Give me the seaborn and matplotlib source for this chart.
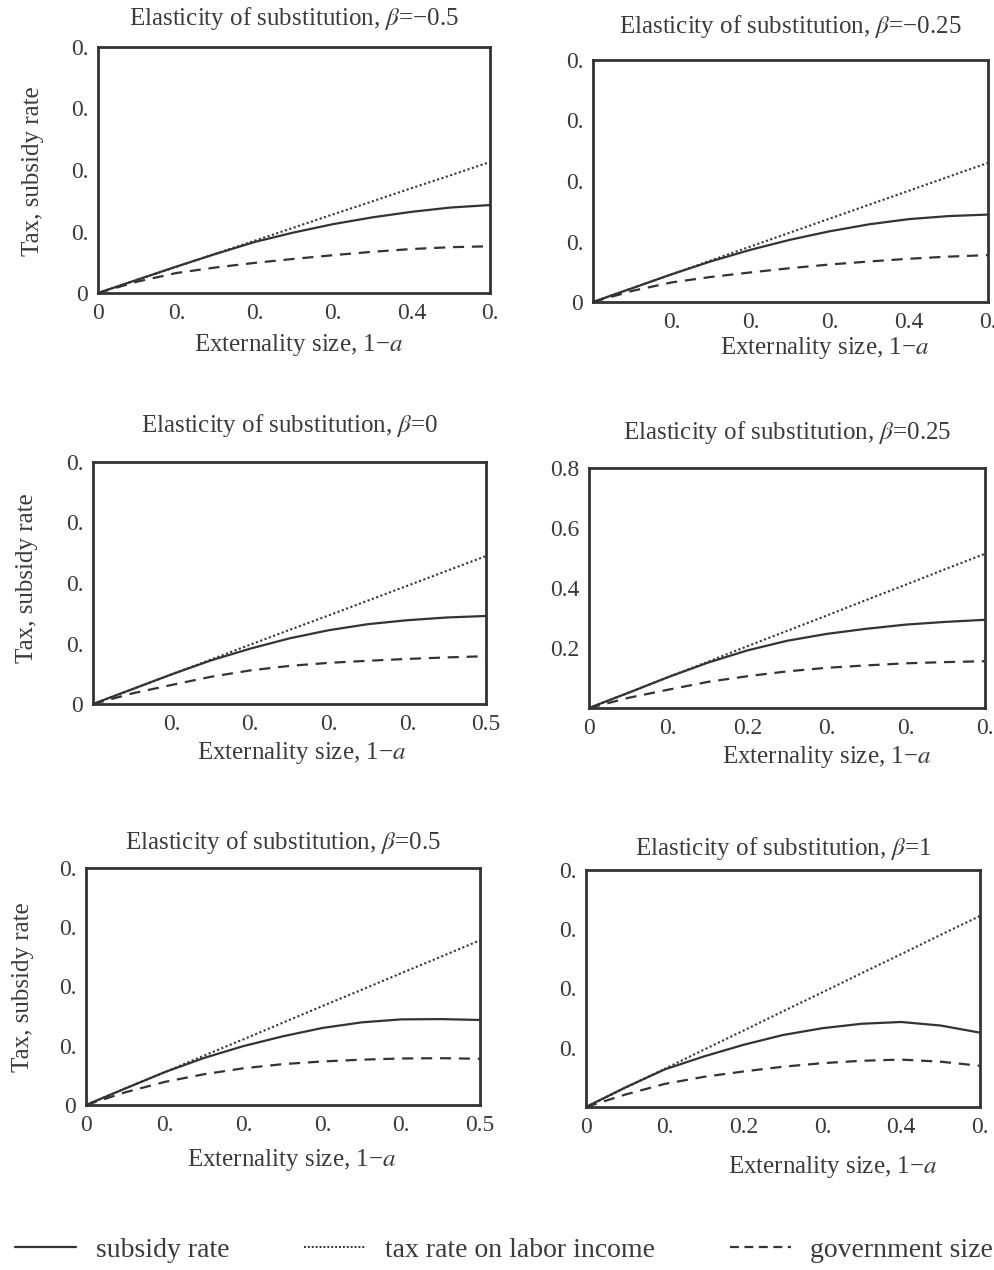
import matplotlib
matplotlib.use("Agg")
import matplotlib.pyplot as plt
from matplotlib.lines import Line2D
import seaborn as sns
import pandas as pd

sns.set_theme(style="white")
plt.rcParams['font.family'] = ['Liberation Serif', 'DejaVu Serif']
plt.rcParams['mathtext.fontset'] = 'stix'

INK = "#333333"
TXT = "#3a3a3a"

# externality size 1-a
x = [0, 0.05, 0.1, 0.15, 0.2, 0.25, 0.3, 0.35, 0.4, 0.45, 0.5]

betas = ["\u22120.5", "\u22120.25", "0", "0.25", "0.5", "1"]

subsidy = [
    [0, .043, .086, .127, .166, .197, .224, .246, .264, .278, .286],
    [0, .046, .092, .135, .173, .206, .234, .257, .274, .284, .289],
    [0, .049, .098, .144, .183, .217, .244, .264, .277, .286, .291],
    [0, .051, .103, .151, .192, .224, .247, .264, .278, .287, .294],
    [0, .056, .111, .159, .199, .232, .260, .279, .289, .290, .287],
    [0, .066, .127, .171, .210, .243, .266, .281, .287, .275, .251],
]
tax = [
    [0, .043, .085, .128, .170, .213, .256, .298, .341, .383, .426],
    [0, .046, .092, .138, .184, .230, .276, .322, .368, .414, .460],
    [0, .049, .098, .147, .196, .245, .293, .342, .391, .440, .489],
    [0, .051, .103, .154, .206, .257, .308, .360, .411, .463, .514],
    [0, .056, .111, .167, .222, .278, .334, .389, .445, .500, .556],
    [0, .065, .129, .194, .258, .323, .387, .452, .516, .581, .645],
]
gov = [
    [0, .037, .065, .083, .098, .111, .123, .134, .143, .149, .152],
    [0, .037, .065, .083, .098, .112, .124, .134, .143, .150, .155],
    [0, .035, .063, .090, .111, .126, .136, .143, .149, .154, .158],
    [0, .034, .061, .087, .106, .122, .134, .142, .149, .153, .156],
    [0, .043, .078, .104, .124, .138, .147, .153, .157, .158, .156],
    [0, .042, .078, .102, .120, .136, .148, .156, .160, .153, .139],
]

xticks = [0, 0.1, 0.2, 0.3, 0.4, 0.5]
yticks = [0, 0.2, 0.4, 0.6, 0.8]
# the scanned labels are truncated, keep them as printed
xticklabels = [
    ["0", "0.", "0.", "0.", "0.4", "0."],
    ["", "0.", "0.", "0.", "0.4", "0."],
    ["", "0.", "0.", "0.", "0.", "0.5"],
    ["0", "0.", "0.2", "0.", "0.", "0."],
    ["0", "0.", "0.", "0.", "0.", "0.5"],
    ["0", "0.", "0.2", "0.", "0.4", "0."],
]
yticklabels = [
    ["0", "0.", "0.", "0.", "0."],
    ["0", "0.", "0.", "0.", "0."],
    ["0", "0.", "0.", "0.", "0."],
    ["", "0.2", "0.4", "0.6", "0.8"],
    ["0", "0.", "0.", "0.", "0."],
    ["", "0.", "0.", "0.", "0."],
]
has_ylabel = [True, False, True, False, True, False]

# layout in pixels: left, right, top, bottom of each plot box
W, H = 995, 1270
boxes = [
    (98, 490, 47, 293), (593, 988, 60, 302),
    (93, 486, 462, 704), (589, 985, 468, 708),
    (86, 480, 868, 1105), (586, 980, 870, 1107),
]
title_y = [18, 26, 425, 433, 843, 848]
xlab_pos = [(299, 345), (825, 348), (302, 753), (827, 757), (292, 1160), (833, 1167)]
ylab_pos = [(33, 171), None, (27, 578), None, (23, 987), None]

fig = plt.figure(figsize=(W / 100, H / 100), dpi=100)

for i in range(6):
    l, r, t, b = boxes[i]
    ax = fig.add_axes([l / W, 1 - b / H, (r - l) / W, (b - t) / H])
    df = pd.DataFrame({"x": x, "subsidy": subsidy[i], "tax": tax[i], "gov": gov[i]})
    sns.lineplot(data=df, x="x", y="tax", ax=ax, color=INK, lw=1.5, linestyle=(0, (1, 1.2)))
    sns.lineplot(data=df, x="x", y="subsidy", ax=ax, color=INK, lw=1.6)
    sns.lineplot(data=df, x="x", y="gov", ax=ax, color=INK, lw=1.6, linestyle=(0, (5, 3.5)))
    ax.set_xlim(0, 0.5)
    ax.set_ylim(0, 0.8)
    ax.set_xticks(xticks)
    ax.set_xticklabels(xticklabels[i])
    ax.set_yticks(yticks)
    ax.set_yticklabels(yticklabels[i])
    ax.tick_params(direction="in", length=3, width=1, colors=INK, labelcolor=TXT,
                   labelsize=17, pad=7)
    ax.set_xlabel("")
    ax.set_ylabel("")
    for s in ax.spines.values():
        s.set_color(INK)
        s.set_linewidth(2)

    fig.text(((l + r) / 2) / W, 1 - title_y[i] / H,
             "Elasticity of substitution, $\\beta$=" + betas[i],
             ha="center", va="center", fontsize=18, color=TXT)
    xl, yl = xlab_pos[i]
    fig.text(xl / W, 1 - yl / H, "Externality size, 1\u2212$a$",
             ha="center", va="center", fontsize=18, color=TXT)
    if has_ylabel[i]:
        px, py = ylab_pos[i]
        fig.text(px / W, 1 - py / H, "Tax, subsidy rate", rotation=90,
                 ha="center", va="center", fontsize=18, color=TXT)

handles = [
    Line2D([], [], color=INK, lw=1.6),
    Line2D([], [], color=INK, lw=1.4, linestyle=(0, (1, 1))),
    Line2D([], [], color=INK, lw=1.6, linestyle=(0, (4, 2.5))),
]
labels = ["subsidy rate", "tax rate on labor income", "government size"]
fig.legend(handles, labels, loc="center", bbox_to_anchor=(504 / W, 1 - 1250 / H), ncol=3,
           frameon=False, fontsize=20, handlelength=2.2, handletextpad=0.7,
           columnspacing=2.7, borderpad=0, labelcolor=TXT)

fig.savefig("out.png", dpi=100)
